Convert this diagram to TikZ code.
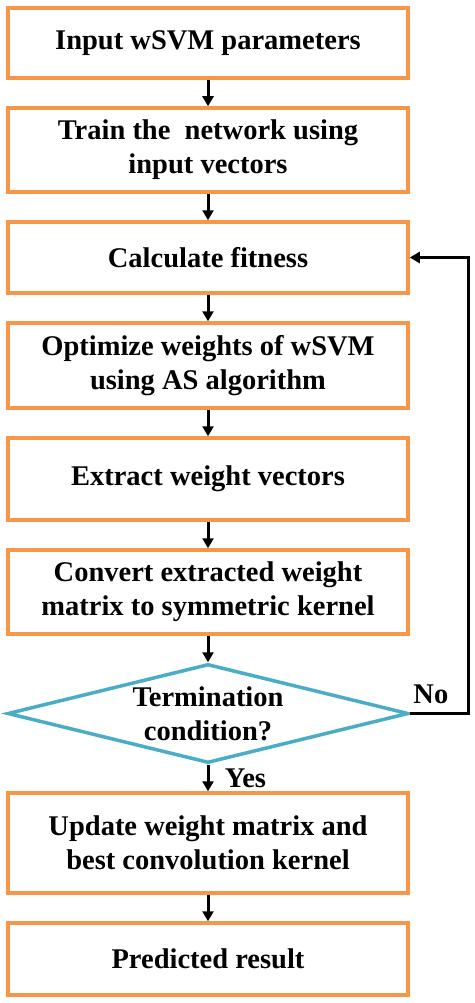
\documentclass[tikz,border=0pt]{standalone}
\usepackage{fontspec}
\setmainfont{Liberation Serif}
\usetikzlibrary{shapes.geometric,arrows.meta,positioning,calc}
\definecolor{boxorange}{HTML}{F79646}
\definecolor{condblue}{HTML}{4BACC6}

\begin{document}
\begin{tikzpicture}[>={Triangle[length=10pt,width=11pt]}, node distance=26.5pt,
    font=\fontsize{28.5}{34}\selectfont\bfseries,
    box/.style={draw=boxorange, line width=3.5pt, minimum width=400pt,
                inner sep=0pt, align=center},
    cond/.style={draw=condblue, diamond, aspect=4, line width=3.5pt,
                 minimum width=401pt, minimum height=99pt, inner sep=0pt,
                 align=center},
    flow/.style={->, line width=3pt}]
  \useasboundingbox (0,0) rectangle (474pt,-1003pt);
  \node[box, minimum height=70pt] (input) at (208pt,-43pt) {Input wSVM parameters};
  \node[box, minimum height=84pt, below=of input] (train) {Train the\ \ network using\\input vectors};
  \node[box, minimum height=71pt, below=of train] (fitness) {Calculate fitness};
  \node[box, minimum height=85pt, below=of fitness] (optimize) {Optimize weights of wSVM\\using AS algorithm};
  \node[box, minimum height=82pt, below=of optimize] (extract) {Extract weight vectors};
  \node[box, minimum height=84pt, below=of extract] (convert) {Convert extracted weight\\matrix to symmetric kernel};
  \node[cond, below=of convert] (term) {Termination\\condition?};
  \node[box, minimum height=100pt, below=of term] (update) {Update weight matrix and\\best convolution kernel};
  \node[box, minimum height=72pt, below=of update] (result) {Predicted result};
  \coordinate (loop) at (468pt,0 |- term.east);

  \draw[flow] (input) -- (train);
  \draw[flow] (train) -- (fitness);
  \draw[flow] (fitness) -- (optimize);
  \draw[flow] (optimize) -- (extract);
  \draw[flow] (extract) -- (convert);
  \draw[flow] (convert) -- (term);
  \draw[flow] (term) -- node[right=12pt] (yes) {Yes} (update);
  \draw[flow] (update) -- (result);
  \draw[flow] (term.east) -- (loop) |- (fitness.east);
  \node[anchor=south west, inner sep=0pt] (no) at ([xshift=3pt,yshift=10pt]term.east) {No};
\end{tikzpicture}
\end{document}
